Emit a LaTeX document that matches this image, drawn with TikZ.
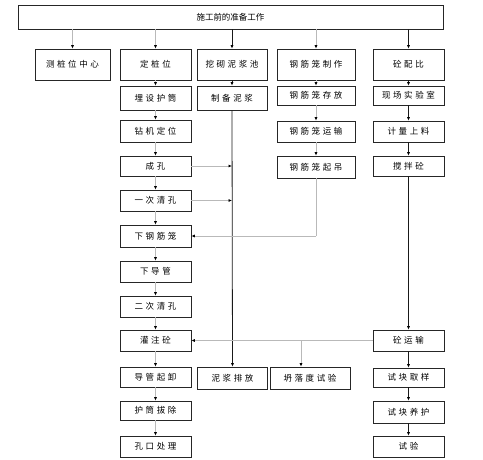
\documentclass[tikz,border=0pt]{standalone}
\usepackage{fontspec}
\setmainfont{Noto Sans CJK SC}
\newfontfamily\cjkesp[LetterSpace=30]{Noto Sans CJK SC}
\usetikzlibrary{arrows.meta}

\begin{document}
\begin{tikzpicture}[x=1pt, y=-1pt,
    caja/.style={draw=black!85, line width=0.6pt, inner sep=0pt,
      font=\cjkesp\fontsize{8.5}{10}\selectfont},
    cola/.style={caja, minimum width=75pt},
    colb/.style={caja, minimum width=71pt},
    colc/.style={caja, minimum width=70pt},
    cold/.style={caja, minimum width=78pt},
    cole/.style={caja, minimum width=71pt},
    flecha/.style={-{Latex[length=3.5pt, width=3pt, color=black]}, line width=0.8pt},
    gris/.style={draw=gray!55},
    negra/.style={draw=black!90}]
    \useasboundingbox (0,0) rectangle (483,460);

    % Trabajo previo
    \node[caja, minimum width=425pt, minimum height=24pt,
      font=\fontsize{8.5}{10}\selectfont] (prep) at (230.5,17) {施工前的准备工作};

    % Primera fila
    \node[cola, minimum height=31pt] (a1) at (72.5,64.5) {测桩位中心};
    \node[colb, minimum height=31pt] (b1) at (155.5,64.5) {定桩位};
    \node[colc, minimum height=31pt] (c1) at (232,64.5) {挖砌泥浆池};
    \node[cold, minimum height=31pt] (d1) at (316,64.5) {钢筋笼制作};
    \node[cole, minimum height=31pt] (e1) at (408.5,64.5) {砼配比};

    % Columna del pilote
    \node[colb, minimum height=24pt] (b2) at (155.5,98) {埋设护筒};
    \node[colb, minimum height=22pt] (b3) at (155.5,131) {钻机定位};
    \node[colb, minimum height=20pt] (b4) at (155.5,166) {成孔};
    \node[colb, minimum height=21pt] (b5) at (155.5,200.5) {一次清孔};
    \node[colb, minimum height=22pt] (b6) at (155.5,236) {下钢筋笼};
    \node[colb, minimum height=21pt] (b7) at (155.5,271.5) {下导管};
    \node[colb, minimum height=21pt] (b8) at (155.5,306.5) {二次清孔};
    \node[colb, minimum height=21pt] (b9) at (155.5,340.5) {灌注砼};
    \node[colb, minimum height=20pt] (b10) at (155.5,377) {导管起卸};
    \node[colb, minimum height=19pt] (b11) at (155.5,410.5) {护筒拔除};
    \node[colb, minimum height=21pt] (b12) at (155.5,446.5) {孔口处理};

    % Columna del lodo
    \node[colc, minimum height=24pt] (c2) at (232,98) {制备泥浆};
    \node[colc, minimum height=22pt] (c10) at (232.5,378) {泥浆排放};

    % Columna de la armadura
    \node[cold, minimum height=19pt] (d2) at (316,95.5) {钢筋笼存放};
    \node[cold, minimum height=21pt] (d3) at (316,131.5) {钢筋笼运输};
    \node[cold, minimum height=22pt] (d4) at (316,167) {钢筋笼起吊};
    \node[caja, minimum width=80pt, minimum height=22pt] (d10) at (310,378) {坍落度试验};

    % Columna del hormigon
    \node[cole, minimum height=19pt] (e2) at (408.5,95.5) {现场实验室};
    \node[cole, minimum height=21pt] (e3) at (408.5,131.5) {计量上料};
    \node[cole, minimum height=20pt] (e4) at (408.5,166) {搅拌砼};
    \node[cole, minimum height=21pt] (e9) at (408.5,340.5) {砼运输};
    \node[cole, minimum height=19pt] (e10) at (408.5,377.5) {试块取样};
    \node[cole, minimum height=22pt] (e11) at (408.5,412) {试块养护};
    \node[cole, minimum height=21pt] (e12) at (408.5,446.5) {试验};

    % Flechas desde el trabajo previo
    \draw[flecha, gris] (prep.south -| a1.north) -- (a1.north);
    \draw[flecha, gris] (prep.south -| b1.north) -- (b1.north);
    \draw[flecha, negra] (prep.south -| c1.north) -- (c1.north);
    \draw[flecha, gris] (prep.south -| d1.north) -- (d1.north);
    \draw[flecha, negra] (prep.south -| e1.north) -- (e1.north);

    % Secuencia del pilote
    \foreach \i [count=\j from 2] in {1,...,11}
      \draw[flecha, gris] (b\i.south) -- (b\j.north);

    % Lodo
    \draw[flecha, negra] (c1.south) -- (c2.north);
    \draw[flecha, negra] (c2.south) -- (c10.north);
    \draw[flecha, gris] (b4.east) -- (b4.east -| c2.south);
    \draw[flecha, gris] (b5.east) -- (b5.east -| c2.south);

    % Armadura
    \foreach \i/\j in {1/2, 2/3, 3/4}
      \draw[flecha, gris] (d\i.south) -- (d\j.north);
    \draw[gris, line width=0.8pt] (d4.south) -- (d4.south |- b6.east);
    \draw[flecha, gris] (d4.south |- b6.east) -- (b6.east);

    % Hormigon
    \foreach \i/\j in {1/2, 2/3, 3/4, 9/10, 10/11, 11/12}
      \draw[flecha, negra] (e\i.south) -- (e\j.north);
    \draw[flecha, negra] (e4.south) -- (e9.north);
    \draw[flecha, gris] (e9.west) -- (b9.east);
    \coordinate (cono) at (301,340.5);
    \draw[flecha, gris] (cono) -- (cono |- d10.north);
\end{tikzpicture}
\end{document}
